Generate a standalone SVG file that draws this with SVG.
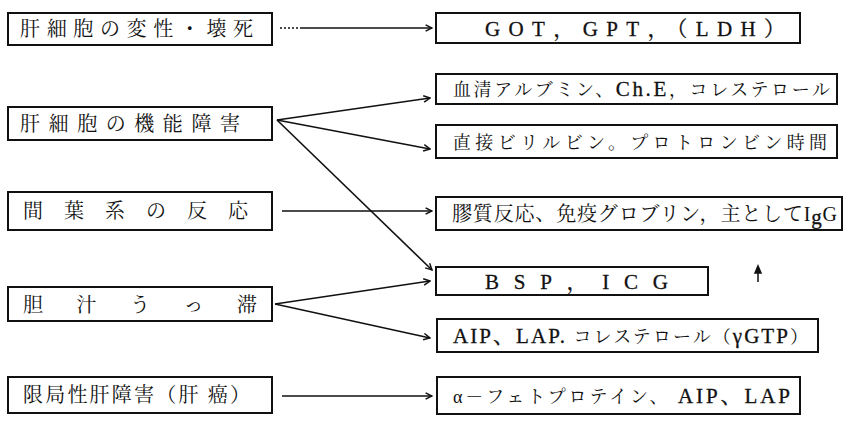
<svg xmlns="http://www.w3.org/2000/svg" width="857" height="427" viewBox="0 0 857 427">
<defs>
<style>
.box{fill:none;stroke:#111;stroke-width:2}
.t{font-family:"Liberation Serif","Noto Serif CJK JP","Noto Sans CJK JP",serif;fill:#111;font-size:20px}
.r{font-size:18px}
.b{font-size:21px;stroke:#111;stroke-width:0.3}
.c{fill:none;stroke:#111;stroke-width:1.6}
</style>
<marker id="ah" viewBox="0 0 10 10" refX="9" refY="5" markerWidth="8" markerHeight="8" markerUnits="userSpaceOnUse" orient="auto">
<path d="M1,1 L9,5 L1,9" fill="none" stroke="#111" stroke-width="1.8"/>
</marker>
</defs>
<rect width="857" height="427" fill="#fff"/>
<g id="L1"><rect class="box" x="8" y="13" width="264" height="32"/><text class="t" x="20" y="36" textLength="233" lengthAdjust="spacing">肝細胞の変性・壊死</text></g>
<g id="L2"><rect class="box" x="8" y="107" width="264" height="33"/><text class="t" x="20" y="131" textLength="220" lengthAdjust="spacing">肝細胞の機能障害</text></g>
<g id="L3"><rect class="box" x="8" y="192" width="264" height="38"/><text class="t" x="23" y="218" textLength="225" lengthAdjust="spacing">間葉系の反応</text></g>
<g id="L4"><rect class="box" x="8" y="287" width="264" height="34"/><text class="t" x="23" y="312" textLength="234" lengthAdjust="spacing">胆汁うっ滞</text></g>
<g id="L5"><rect class="box" x="8" y="377" width="264" height="36"/><text class="t" x="23" y="402" textLength="227" lengthAdjust="spacing">限局性肝障害（肝 癌）</text></g>
<g id="R1"><rect class="box" x="436" y="13" width="364" height="30"/><text class="t b" x="485" y="36" textLength="300" lengthAdjust="spacing">GOT，GPT，（LDH）</text></g>
<g id="R2"><rect class="box" x="436" y="74" width="401" height="30"/><text class="t r" x="453" y="96" textLength="377" lengthAdjust="spacing">血清アルブミン、<tspan class="b">Ch.E</tspan>，コレステロール</text></g>
<g id="R3"><rect class="box" x="436" y="125" width="401" height="33"/><text class="t r" x="453" y="149" textLength="374" lengthAdjust="spacing">直接ビリルビン。プロトロンビン時間</text></g>
<g id="R4"><rect class="box" x="436" y="197" width="406" height="33"/><text class="t" x="452" y="221" textLength="385" lengthAdjust="spacing">膠質反応、免疫グロブリン，主としてI<tspan class="b" dy="3">g</tspan><tspan dy="-3">G</tspan></text></g>
<g id="R5"><rect class="box" x="436" y="267" width="272" height="28"/><text class="t b" x="485" y="289" textLength="183" lengthAdjust="spacing">BSP，ICG</text></g>
<g id="R6"><rect class="box" x="437" y="319" width="381" height="33"/><text class="t r" x="453" y="343" textLength="355" lengthAdjust="spacing"><tspan class="b">AIP、LAP.</tspan> コレステロール（<tspan class="b">γGTP</tspan>）</text></g>
<g id="R7"><rect class="box" x="437" y="377" width="363" height="37"/><text class="t r" x="453" y="403" textLength="337" lengthAdjust="spacing">α－フェトプロテイン、 <tspan class="b">AIP、LAP</tspan></text></g>
<path d="M758,282 L758,269 M755,273 L758,266 L761,273 Z" fill="#111" stroke="#111" stroke-width="1.5"/>
<g id="connectors">
<line class="c" x1="280" y1="28" x2="300" y2="28" stroke-dasharray="2 2"/>
<line class="c" x1="300" y1="28" x2="432" y2="28" marker-end="url(#ah)"/>
<line class="c" x1="277" y1="120" x2="430" y2="98" marker-end="url(#ah)"/>
<line class="c" x1="277" y1="120" x2="430" y2="149" marker-end="url(#ah)"/>
<line class="c" x1="277" y1="120" x2="432" y2="270" marker-end="url(#ah)"/>
<line class="c" x1="282" y1="211" x2="432" y2="211" marker-end="url(#ah)"/>
<line class="c" x1="275" y1="304" x2="430" y2="281" marker-end="url(#ah)"/>
<line class="c" x1="275" y1="304" x2="430" y2="338" marker-end="url(#ah)"/>
<line class="c" x1="282" y1="396" x2="432" y2="396" marker-end="url(#ah)"/>
</g>
</svg>
